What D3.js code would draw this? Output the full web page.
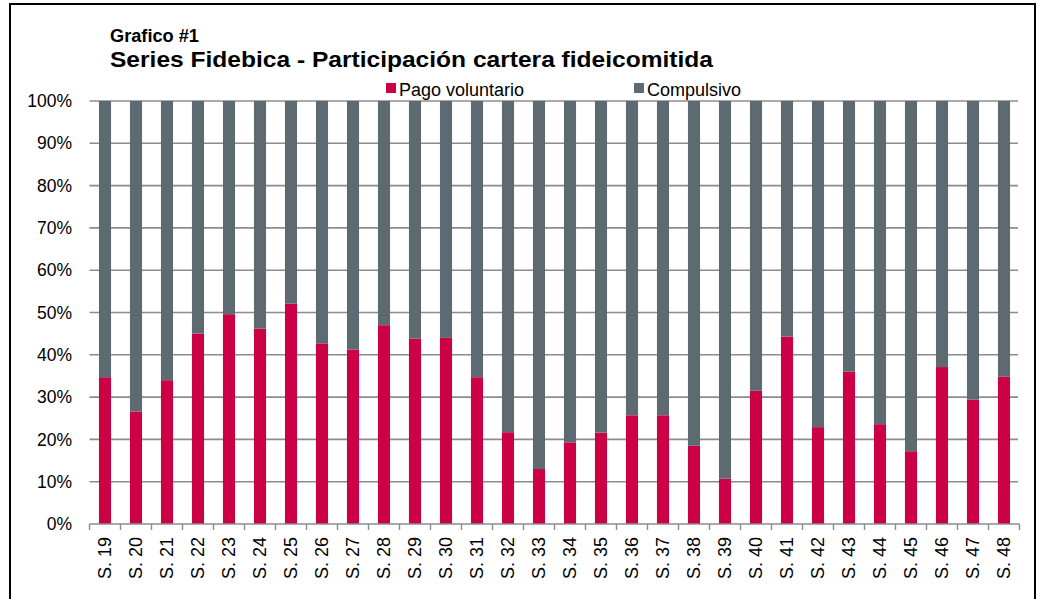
<!DOCTYPE html>
<html><head><meta charset="utf-8">
<script src="https://cdn.jsdelivr.net/npm/d3@7"></script>
<style>body{margin:0;background:#fff}svg{display:block}text{font-family:"Liberation Sans",Arial,sans-serif}</style>
</head><body>
<script>
const categories = ["S. 19","S. 20","S. 21","S. 22","S. 23","S. 24","S. 25","S. 26","S. 27","S. 28","S. 29","S. 30","S. 31","S. 32","S. 33","S. 34","S. 35","S. 36","S. 37","S. 38","S. 39","S. 40","S. 41","S. 42","S. 43","S. 44","S. 45","S. 46","S. 47","S. 48"];
const pagoVoluntario = [34.7,26.6,34.0,45.0,49.6,46.2,52.1,42.7,41.2,47.0,43.8,44.0,34.7,21.7,13.0,19.3,21.6,25.7,25.7,18.5,10.7,31.5,44.3,22.9,36.0,23.6,17.2,37.1,29.4,34.8];
const compulsivo = pagoVoluntario.map(v => 100 - v);
const yTicks = [0,10,20,30,40,50,60,70,80,90,100];
const seriesNames = ["Pago voluntario","Compulsivo"];
const colors = ["#CC0044","#5E6A71"];

const W = 1039, H = 599;
const svg = d3.select("body").append("svg").attr("width", W).attr("height", H);

// frame
svg.append("rect").attr("x",10).attr("y",4).attr("width",1025).attr("height",620)
  .attr("fill","none").attr("stroke","#000").attr("stroke-width",2);

const x = d3.scaleBand().domain(categories).range([89.5,1019.5]).paddingInner(0.61).paddingOuter(0.305);
const y = d3.scaleLinear().domain([0,100]).range([524,101]);

// gridlines
svg.append("g").selectAll("line").data(yTicks.filter(t=>t>0)).join("line")
  .attr("x1",89.5).attr("x2",1018).attr("y1",d=>y(d)).attr("y2",d=>y(d))
  .attr("stroke","#8c8c8c").attr("stroke-width",1.6);

// stacked bars
const data = categories.map((c,i)=>({cat:c, "Pago voluntario":pagoVoluntario[i], "Compulsivo":compulsivo[i]}));
const stack = d3.stack().keys(seriesNames)(data);
svg.append("g").selectAll("g").data(stack).join("g").attr("fill",(d,i)=>colors[i])
  .selectAll("rect").data(d=>d).join("rect")
  .attr("x",d=>x(d.data.cat)).attr("width",x.bandwidth())
  .attr("y",d=>y(d[1])).attr("height",d=>y(d[0])-y(d[1]));

// y labels
svg.append("g").selectAll("text").data(yTicks).join("text")
  .attr("x",72).attr("y",d=>y(d)).attr("dy","0.35em").attr("text-anchor","end")
  .attr("font-size","17.5px").attr("fill","#000").text(d=>d+"%");

// x axis
const gx = svg.append("g").attr("transform",`translate(0,${y(0)})`);
gx.append("line").attr("x1",89.5).attr("x2",1019.5).attr("stroke","#8c8c8c").attr("stroke-width",1.6);
const step = x.step();
gx.selectAll("line.tick").data(d3.range(categories.length+1)).join("line").attr("class","tick")
  .attr("x1",i=>89.5+i*step).attr("x2",i=>89.5+i*step).attr("y1",0).attr("y2",6)
  .attr("stroke","#8c8c8c").attr("stroke-width",1.4);
gx.selectAll("text").data(categories).join("text")
  .attr("transform",d=>`translate(${x(d)+x.bandwidth()/2},13) rotate(-90)`)
  .attr("text-anchor","end").attr("dy","0.35em").attr("font-size","18px").text(d=>d);

// titles
svg.append("text").attr("x",110).attr("y",41.5).attr("font-size","17.5px").attr("font-weight","bold")
  .attr("textLength",89).attr("lengthAdjust","spacingAndGlyphs").text("Grafico #1");
svg.append("text").attr("x",110).attr("y",67).attr("font-size","22.5px").attr("font-weight","bold")
  .attr("textLength",603).attr("lengthAdjust","spacingAndGlyphs").text("Series Fidebica - Participación cartera fideicomitida");

// legend
const legX = [386,634];
seriesNames.forEach((n,i)=>{
  svg.append("rect").attr("x",legX[i]).attr("y",83).attr("width",10).attr("height",10).attr("fill",colors[i]);
  svg.append("text").attr("x",legX[i]+13).attr("y",96).attr("font-size","18px").text(n);
});
</script>
</body></html>
